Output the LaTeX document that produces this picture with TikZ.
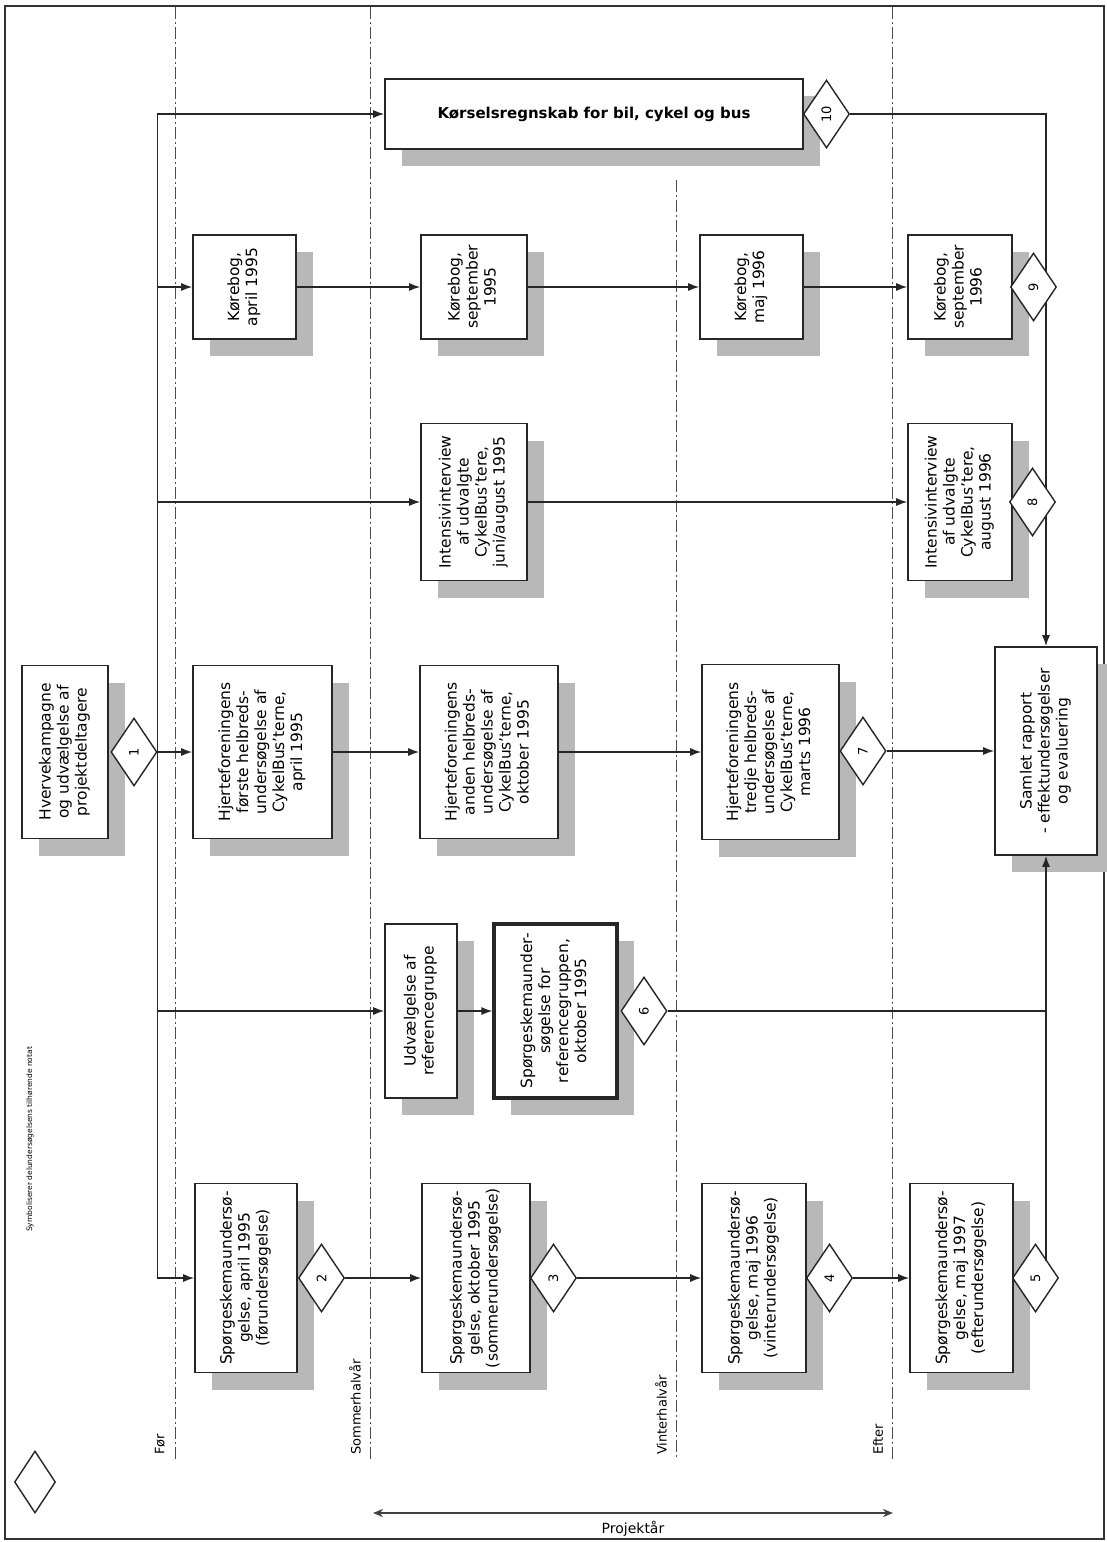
\documentclass[tikz,border=0pt]{standalone}
\usepackage{fontspec}
\setmainfont{DejaVu Sans}
\usepackage{graphicx}
\usetikzlibrary{shapes.geometric,arrows.meta,shadows}

\newcommand{\vt}[1]{\rotatebox{90}{\begin{tabular}{@{}c@{}}#1\end{tabular}}}

\begin{document}
\begin{tikzpicture}[x=1pt,y=-1pt,
  font=\fontsize{15.5}{18}\selectfont,
  box/.style={draw=black!85, fill=white, line width=1.6pt, inner sep=0pt,
    drop shadow={shadow xshift=17pt, shadow yshift=-17pt, fill=black!28, opacity=1}},
  dia/.style={draw=black!85, fill=white, shape=diamond, line width=1.4pt,
    minimum width=46pt, minimum height=68pt, inner sep=0pt, font=\fontsize{13}{15}\selectfont},
  arr/.style={-{Latex[length=11pt,width=8pt]}, line width=1.4pt, black!85},
  ln/.style={line width=1.4pt, black!85},
  sep/.style={black!70, line width=0.8pt, dash pattern=on 12pt off 3pt on 2pt off 3pt},
  lbl/.style={rotate=90, anchor=west, inner sep=0pt, font=\fontsize{13}{15}\selectfont}]
\useasboundingbox (0,0) rectangle (1107,1542);
\draw[line width=1.2pt, black!80] (5,6) rectangle (1104,1539);

\draw[sep] (175,7) -- (175,1460);
\draw[sep] (370,7) -- (370,1460);
\draw[sep] (676,180) -- (676,1460);
\draw[sep] (892,7) -- (892,1460);

\node[lbl] (lfor) at (160,1455) {Før};
\node[lbl] (lsom) at (355,1455) {Sommerhalvår};
\node[lbl] (lvin) at (661,1455) {Vinterhalvår};
\node[lbl] (left) at (878,1455) {Efter};

\node[box, minimum width=86pt, minimum height=173pt] (hverv) at (65,752) {\vt{Hvervekampagne\\og udvælgelse af\\projektdeltagere}};
\node[box, minimum width=418pt, minimum height=70pt] (kors) at (594,114) {\bfseries\fontsize{15}{17}\selectfont Kørselsregnskab for bil, cykel og bus};

\node[box, minimum width=103pt, minimum height=104pt] (kbA) at (244.5,287) {\vt{Kørebog,\\april 1995}};
\node[box, minimum width=106pt, minimum height=104pt] (kbB) at (474,287) {\vt{Kørebog,\\september\\1995}};
\node[box, minimum width=103pt, minimum height=104pt] (kbC) at (751.5,287) {\vt{Kørebog,\\maj 1996}};
\node[box, minimum width=104pt, minimum height=104pt] (kbD) at (960,287) {\vt{Kørebog,\\september\\1996}};

\node[box, minimum width=106pt, minimum height=157pt] (ivA) at (474,502) {\vt{Intensivinterview\\af udvalgte\\CykelBus'tere,\\juni/august 1995}};
\node[box, minimum width=104pt, minimum height=157pt] (ivB) at (960,502) {\vt{Intensivinterview\\af udvalgte\\CykelBus'tere,\\august 1996}};

\node[box, minimum width=139pt, minimum height=173pt] (hjA) at (262.5,752) {\vt{Hjerteforeningens\\første helbreds-\\undersøgelse af\\CykelBus'terne,\\april 1995}};
\node[box, minimum width=138pt, minimum height=173pt] (hjB) at (489,752) {\vt{Hjerteforeningens\\anden helbreds-\\undersøgelse af\\CykelBus'terne,\\oktober 1995}};
\node[box, minimum width=137pt, minimum height=175pt] (hjC) at (770.5,752) {\vt{Hjerteforeningens\\tredje helbreds-\\undersøgelse af\\CykelBus'terne,\\marts 1996}};
\node[box, minimum width=102pt, minimum height=208pt] (samlet) at (1046,751) {\vt{Samlet rapport\\- effektundersøgelser\\og evaluering}};

\node[box, minimum width=72pt, minimum height=174pt] (udv) at (421,1011) {\vt{Udvælgelse af\\referencegruppe}};
\node[box, line width=3.2pt, minimum width=123pt, minimum height=174pt] (spR) at (555.5,1011) {\vt{Spørgeskemaunder-\\søgelse for\\referencegruppen,\\oktober 1995}};

\node[box, minimum width=102pt, minimum height=189pt] (spA) at (246,1278) {\vt{Spørgeskemaundersø-\\gelse, april 1995\\(førundersøgelse)}};
\node[box, minimum width=108pt, minimum height=189pt] (spB) at (476,1278) {\vt{Spørgeskemaundersø-\\gelse, oktober 1995\\(sommerundersøgelse)}};
\node[box, minimum width=104pt, minimum height=189pt] (spC) at (754,1278) {\vt{Spørgeskemaundersø-\\gelse, maj 1996\\(vinterundersøgelse)}};
\node[box, minimum width=103pt, minimum height=189pt] (spD) at (961.5,1278) {\vt{Spørgeskemaundersø-\\gelse, maj 1997\\(efterundersøgelse)}};

\node[dia] (d1) at (134,752) {\rotatebox{90}{1}};
\node[dia] (d2) at (321.5,1278) {\rotatebox{90}{2}};
\node[dia] (d3) at (553.5,1278) {\rotatebox{90}{3}};
\node[dia] (d4) at (829.5,1278) {\rotatebox{90}{4}};
\node[dia] (d5) at (1035.5,1278) {\rotatebox{90}{5}};
\node[dia] (d6) at (644,1011) {\rotatebox{90}{6}};
\node[dia] (d7) at (863,751) {\rotatebox{90}{7}};
\node[dia] (d10) at (826.5,114) {\rotatebox{90}{10}};

\draw[arr] (d1.east) |- (kors.west);
\draw[arr] (d1.east) |- (spA.west);
\draw[arr] (d1.east |- kbA.west) -- (kbA.west);
\draw[arr] (d1.east |- ivA.west) -- (ivA.west);
\draw[arr] (d1.east) -- (hjA.west);
\draw[arr] (d1.east |- udv.west) -- (udv.west);

\draw[arr] (kbA.east) -- (kbB.west);
\draw[arr] (kbB.east) -- (kbC.west);
\draw[arr] (kbC.east) -- (kbD.west);
\draw[arr] (ivA.east) -- (ivB.west);
\draw[arr] (hjA.east) -- (hjB.west);
\draw[arr] (hjB.east) -- (hjC.west);
\draw[arr] (d7.east) -- (d7.east -| samlet.west);
\draw[arr] (udv.east) -- (spR.west);
\draw[ln] (d6.east) -- (d6.east -| samlet.south);
\draw[arr] (d2.east) -- (spB.west);
\draw[arr] (d3.east) -- (spC.west);
\draw[arr] (d4.east) -- (spD.west);
\draw[arr] (samlet.south |- d5.north east) -- (samlet.south);
\draw[arr] (d10.east) -| (samlet.north);

\node[dia] (d9) at (1033.5,287) {\rotatebox{90}{9}};
\node[dia] (d8) at (1032.5,502) {\rotatebox{90}{8}};

\node[dia, minimum width=41pt, minimum height=62pt] (legdia) at (35,1482) {};
\node[lbl, font=\fontsize{7.5}{9}\selectfont] (legtxt) at (30,1232) {Symboliserer delundersøgelsens tilhørende notat};

\coordinate (prjL) at (373,1513);
\coordinate (prjR) at (893,1513);
\draw[{Stealth[length=10pt,width=8pt]}-{Stealth[length=10pt,width=8pt]}, line width=2pt, black!75] (prjL) -- (prjR);
\node[font=\fontsize{14}{16}\selectfont] (prj) at (633,1529) {Projektår};
\end{tikzpicture}
\end{document}
